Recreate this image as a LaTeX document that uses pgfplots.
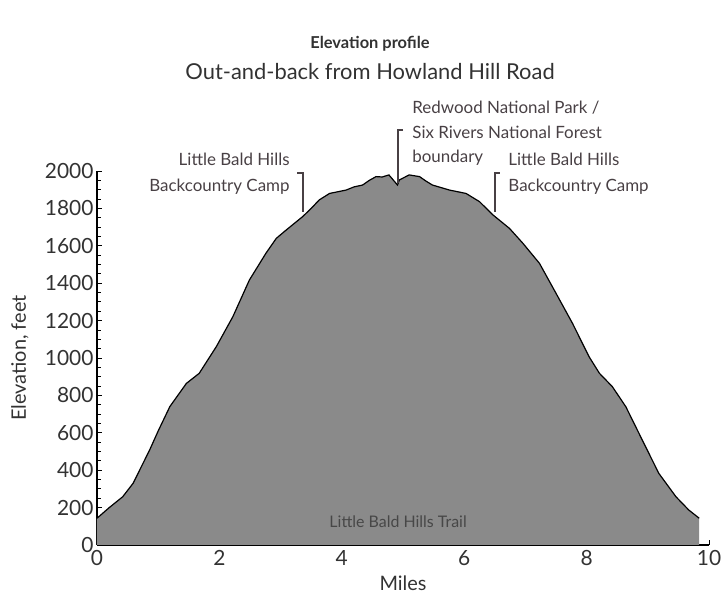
\documentclass[border=0pt]{standalone}
\usepackage{fontspec}
\setmainfont{Lato}
\usepackage{pgfplots}
\pgfplotsset{compat=1.18}
\definecolor{fillgray}{RGB}{138,138,138}
\definecolor{txt}{RGB}{50,50,50}
\definecolor{ann}{RGB}{72,64,68}
\begin{document}
\begin{tikzpicture}[x=1bp,y=1bp]
\useasboundingbox (-97,-51) rectangle (626,545);
\begin{axis}[
  scale only axis, width=612bp, height=374bp,
  xmin=0, xmax=10, ymin=0, ymax=2000,
  axis lines*=left, axis line style={black, line width=1.2pt},
  xtick={0,2,4,6,8,10}, minor xtick={1,3,5,7,9},
  ytick={0,200,...,2000}, minor ytick={50,100,...,2000},
  tick align=inside, major tick length=5bp, minor tick length=4bp,
  tick style={black, line width=0.8pt},
  every tick label/.append style={font=\fontsize{21}{23}\selectfont, text=txt},
  xticklabel style={yshift=-2bp},
  yticklabel style={xshift=0bp},
  /pgf/number format/assume math mode=true,
  /pgf/number format/1000 sep={},
  xlabel={Miles}, ylabel={Elevation, feet},
  label style={font=\fontsize{20}{22}\selectfont, text=txt},
  xlabel style={at={(axis description cs:0.5,0)}, anchor=base, yshift=-45bp},
  ylabel style={at={(axis description cs:-0.126,0.5)}, anchor=center},
  clip=false,
]
\addplot[fill=fillgray, draw=none] coordinates {
(0,0) (0,143) (0.2,200) (0.42,258) (0.59,330) (0.86,508) (1.0,610) (1.19,740) (1.46,864) (1.67,918)
(1.95,1061) (2.22,1221) (2.49,1417) (2.76,1560) (2.93,1640) (3.09,1684) (3.36,1756)
(3.5,1800) (3.63,1845) (3.80,1880) (4.07,1898) (4.2,1915) (4.34,1925) (4.45,1950) (4.56,1970) (4.66,1968) (4.77,1979) (4.91,1925)
(4.94,1952) (5.10,1979) (5.27,1970) (5.38,1945) (5.48,1925) (5.76,1898) (6.03,1880) (6.25,1836)
(6.47,1765) (6.74,1693) (6.96,1613) (7.23,1506) (7.50,1346) (7.77,1185) (8.04,1007)
(8.21,918) (8.42,847) (8.64,740) (8.91,561) (9.18,383) (9.46,258) (9.67,187) (9.84,143) (9.84,0)
} \closedcycle;
\addplot[black, line width=1.2pt] coordinates {
(0,143) (0.2,200) (0.42,258) (0.59,330) (0.86,508) (1.0,610) (1.19,740) (1.46,864) (1.67,918)
(1.95,1061) (2.22,1221) (2.49,1417) (2.76,1560) (2.93,1640) (3.09,1684) (3.36,1756)
(3.5,1800) (3.63,1845) (3.80,1880) (4.07,1898) (4.2,1915) (4.34,1925) (4.45,1950) (4.56,1970) (4.66,1968) (4.77,1979) (4.91,1925)
(4.94,1952) (5.10,1979) (5.27,1970) (5.38,1945) (5.48,1925) (5.76,1898) (6.03,1880) (6.25,1836)
(6.47,1765) (6.74,1693) (6.96,1613) (7.23,1506) (7.50,1346) (7.77,1185) (8.04,1007)
(8.21,918) (8.42,847) (8.64,740) (8.91,561) (9.18,383) (9.46,258) (9.67,187) (9.84,143)
};
% brackets
\draw[ann, line width=1.8pt] (axis cs:3.27,1989) -- (axis cs:3.37,1989) -- (axis cs:3.37,1781);
\draw[ann, line width=1.8pt] (axis cs:5.0,2219) -- (axis cs:4.92,2219) -- (axis cs:4.92,1935);
\draw[ann, line width=1.8pt] (axis cs:6.58,1989) -- (axis cs:6.5,1989) -- (axis cs:6.5,1781);
\tikzset{annot/.style={text=ann, font=\fontsize{17}{19}\selectfont, inner sep=0pt}}
\node[annot, anchor=base east] at (axis cs:3.15,2027) {Little Bald Hills};
\node[annot, anchor=base east] at (axis cs:3.15,1893) {Backcountry Camp};
\node[annot, anchor=base west] at (axis cs:5.15,2305) {Redwood National Park /};
\node[annot, anchor=base west] at (axis cs:5.15,2176) {Six Rivers National Forest};
\node[annot, anchor=base west] at (axis cs:5.15,2048) {boundary};
\node[annot, anchor=base west] at (axis cs:6.72,2027) {Little Bald Hills};
\node[annot, anchor=base west] at (axis cs:6.72,1893) {Backcountry Camp};
\node[text=black!72, font=\fontsize{16}{18}\selectfont, anchor=base, inner sep=0pt] at (axis cs:4.92,91) {Little Bald Hills Trail};
\end{axis}
\node[font=\bfseries\fontsize{16.5}{18}\selectfont, text=txt, anchor=base] at (273,496) {Elevation profile};
\node[font=\fontsize{22}{24}\selectfont, text=txt, anchor=base] at (273,465) {Out-and-back from Howland Hill Road};
\end{tikzpicture}
\end{document}
